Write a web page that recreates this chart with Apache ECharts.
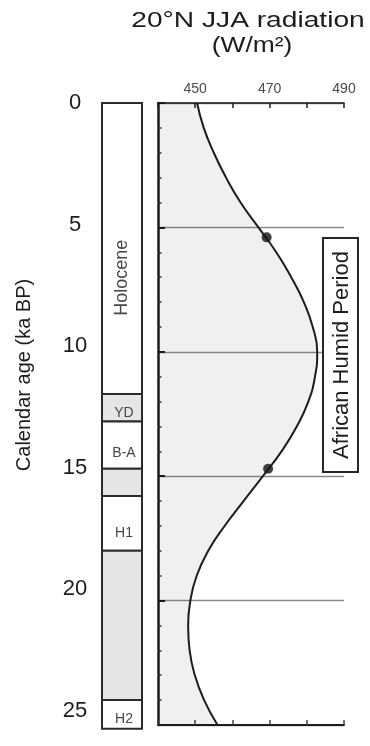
<!DOCTYPE html>
<html>
<head>
<meta charset="utf-8">
<script src="https://cdn.jsdelivr.net/npm/echarts@6/dist/echarts.min.js"></script>
<style>
  html, body { margin: 0; padding: 0; background: #fff; }
  #chart { width: 370px; height: 746px; }
</style>
</head>
<body>
<div id="chart"></div>
<script>
// Age (ka BP) and 20°N June–July–August insolation (W/m²)
const ageKa = [0, 1, 2, 3, 4, 5, 6, 7, 8, 9, 10, 11, 12, 13, 14, 15, 16, 17, 18, 19, 20, 21, 22, 23, 24, 25];
const insolation = [450.5, 452.3, 455.0, 458.3, 462.2, 467.0, 471.8, 475.8, 479.2, 481.6, 482.8, 482.2, 480.4,
                    477.3, 473.2, 468.2, 463.0, 457.9, 453.5, 450.4, 448.7, 448.1, 448.5, 449.9, 452.4, 456.0];

// Onset and termination of the African Humid Period
const humidBoundaryPoints = [[469.2, 5.4], [469.6, 14.7]];
const humidPeriodKa = [5.43, 14.83];
const humidPeriodName = 'African Humid Period';

// Climate stratigraphy column
const periodNames = ['Holocene', 'YD', 'B-A', '', 'H1', '', 'H2'];
const periodTopKa = [0, 11.7, 12.8, 14.7, 15.8, 18.0, 24.0];
const periodBottomKa = [11.7, 12.8, 14.7, 15.8, 18.0, 24.0, 25.15];
const periodShaded = [false, true, false, true, false, true, false];

const radiationLabels = [450, 470, 490];
const titleLines = ['20°N JJA radiation', '(W/m²)'];
const ageAxisName = 'Calendar age (ka BP)';

const FONT = '"Liberation Sans", Arial, Helvetica, sans-serif';
const INK = '#1c1c1c';

const chart = echarts.init(document.getElementById('chart'), null, { renderer: 'canvas' });

function renderPeriod(params, api) {
  const i = params.dataIndex;
  const p0 = api.coord([0, api.value(0)]);
  const p1 = api.coord([1, api.value(1)]);
  const children = [{
    type: 'rect',
    shape: { x: p0[0], y: p0[1], width: p1[0] - p0[0], height: p1[1] - p0[1] },
    style: { fill: periodShaded[i] ? '#e6e6e6' : '#ffffff', stroke: '#2b2b2b', lineWidth: 2 }
  }];
  const name = periodNames[i];
  if (name) {
    const vertical = name.length > 4;
    children.push({
      type: 'text',
      x: (p0[0] + p1[0]) / 2 + (vertical ? 0 : 2),
      y: p0[1] + (p1[1] - p0[1]) * (vertical ? 0.6 : 0.68),
      rotation: vertical ? Math.PI / 2 : 0,
      style: {
        text: name, font: (vertical ? '18px ' : '14px ') + FONT,
        fill: '#474747', align: 'center', verticalAlign: 'middle'
      }
    });
  }
  return { type: 'group', children };
}

function renderHumidBox(params, api) {
  const top = api.coord([440, api.value(0)])[1];
  const bottom = api.coord([440, api.value(1)])[1];
  const left = 323, right = 358;
  return {
    type: 'group',
    children: [
      { type: 'rect', shape: { x: left, y: top, width: right - left, height: bottom - top },
        style: { fill: '#ffffff', stroke: '#262626', lineWidth: 2 } },
      { type: 'text', x: (left + right) / 2 + 1, y: (top + bottom) / 2, rotation: Math.PI / 2,
        style: { text: humidPeriodName, font: '22px ' + FONT, fill: INK, align: 'center', verticalAlign: 'middle' } }
    ]
  };
}

const option = {
  animation: false,
  backgroundColor: '#ffffff',
  grid: [
    { left: 96, top: 103, width: 1, height: 608 },   // age tick labels
    { left: 102, top: 103, width: 40, height: 622 },  // stratigraphy column
    { left: 158, top: 103, width: 186, height: 622 }  // insolation curve
  ],
  xAxis: [
    { gridIndex: 0, type: 'value', min: 0, max: 1, show: false },
    { gridIndex: 1, type: 'value', min: 0, max: 1, show: false },
    {
      gridIndex: 2, type: 'value', position: 'top', min: 440, max: 490, interval: 10,
      axisLine: { show: true, lineStyle: { color: INK, width: 1.5 } },
      axisTick: { show: true, inside: true, length: 5, lineStyle: { color: INK, width: 1.5 } },
      axisLabel: {
        margin: 7, fontFamily: FONT, fontSize: 14, color: '#4a4a4a',
        formatter: v => radiationLabels.includes(v) ? String(v) : ''
      },
      splitLine: { show: false }
    },
    {
      gridIndex: 2, type: 'value', position: 'bottom', min: 440, max: 490, interval: 10,
      axisLine: { show: true, lineStyle: { color: INK, width: 2 } },
      axisTick: { show: true, inside: true, length: 5, lineStyle: { color: '#444', width: 1.5 } },
      axisLabel: { show: false },
      splitLine: { show: false }
    }
  ],
  yAxis: [
    {
      gridIndex: 0, type: 'value', min: 0, max: 25, interval: 5, inverse: true,
      axisLine: { show: false }, axisTick: { show: false }, splitLine: { show: false },
      axisLabel: { margin: 21, align: 'center', fontFamily: FONT, fontSize: 22, color: INK }
    },
    { gridIndex: 1, type: 'value', min: 0, max: 25, inverse: true, show: false },
    {
      gridIndex: 2, type: 'value', position: 'left', min: 0, max: 25, interval: 5, inverse: true,
      axisLine: { show: true, lineStyle: { color: INK, width: 2.5 } },
      axisTick: { show: true, inside: true, length: 7, lineStyle: { color: INK, width: 2 } },
      minorTick: { show: true, splitNumber: 5, length: 3.5, lineStyle: { color: '#333', width: 1.5 } },
      axisLabel: { show: false },
      splitLine: { show: true, lineStyle: { color: '#8a8a8a', width: 1.4 } }
    },
    {
      gridIndex: 2, type: 'category', position: 'right', inverse: true, boundaryGap: false,
      data: ageKa.map(String), show: false
    }
  ],
  graphic: [
    { type: 'text', x: 248, y: 21, scaleX: 1.28,
      style: { text: titleLines[0], font: '22px ' + FONT, fill: INK, align: 'center', verticalAlign: 'middle' } },
    { type: 'text', x: 252, y: 46, scaleX: 1.2,
      style: { text: titleLines[1], font: '22px ' + FONT, fill: INK, align: 'center', verticalAlign: 'middle' } },
    { type: 'text', x: 24, y: 375, rotation: Math.PI / 2,
      style: { text: ageAxisName, font: '20px ' + FONT, fill: INK, align: 'center', verticalAlign: 'middle' } }
  ],
  series: [
    {
      type: 'custom', name: 'stratigraphy', xAxisIndex: 1, yAxisIndex: 1, clip: false,
      renderItem: renderPeriod, encode: { y: [0, 1] },
      data: periodTopKa.map((t, i) => [t, periodBottomKa[i]])
    },
    {
      type: 'line', name: 'insolation', xAxisIndex: 2, yAxisIndex: 3,
      data: insolation, smooth: 0.5, showSymbol: false, symbol: 'none',
      lineStyle: { color: INK, width: 2 },
      areaStyle: { origin: 'start', color: 'rgba(0,0,0,0.085)' },
      z: 3
    },
    {
      type: 'scatter', name: 'AHP boundaries', xAxisIndex: 2, yAxisIndex: 2,
      data: humidBoundaryPoints, symbolSize: 10, itemStyle: { color: '#111' }, z: 5
    },
    {
      type: 'custom', name: 'AHP', xAxisIndex: 2, yAxisIndex: 2, clip: false,
      renderItem: renderHumidBox, encode: { y: [0, 1] },
      data: [humidPeriodKa], z: 4
    }
  ]
};

chart.setOption(option);
</script>
</body>
</html>
